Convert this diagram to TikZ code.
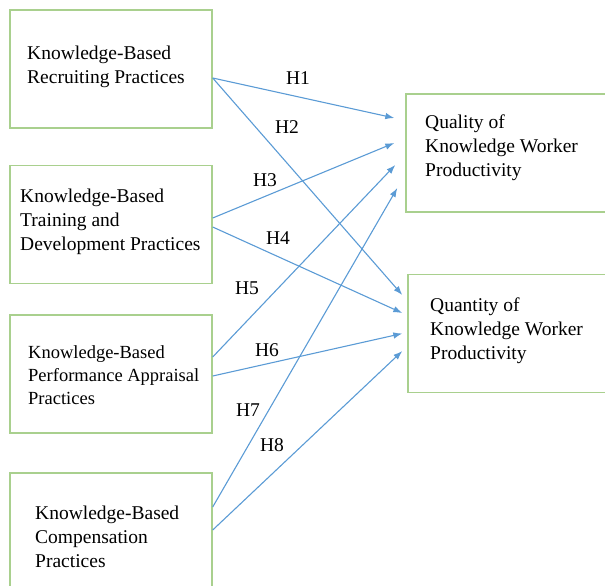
\documentclass[tikz,border=0pt]{standalone}
\usepackage{fontspec}
\setmainfont{Liberation Serif}
\usepackage{xcolor}
\usepackage{tikz}
\usetikzlibrary{arrows.meta}

\definecolor{boxgreen}{RGB}{169,208,142}
\definecolor{linkblue}{RGB}{91,155,213}

\tikzset{
  box/.style={draw=boxgreen,line width=1.4pt,minimum width=202pt,minimum height=118pt,inner sep=0pt},
  rbox/.style={box,minimum width=222pt},
  lbl/.style={anchor=west,align=left,inner sep=0pt,font=\fontsize{19.5}{24}\selectfont},
  hyp/.style={inner sep=0pt,font=\fontsize{19.5}{24}\selectfont},
  link/.style={->,draw=linkblue,line width=1.1pt}
}

\begin{document}
\begin{tikzpicture}[x=1pt,y=-1pt,>={Latex[length=9pt,width=6.5pt]}]

\useasboundingbox (0,0) rectangle (605,586);

% BOXES

% Independent variables.
\node[box] (rec) at (111,69) {};
\node[lbl] (rectext) at (27,66.5) {Knowledge-Based\\Recruiting Practices};

\node[box] (train) at (111,224.5) {};
\node[lbl] (traintext) at (20,221.5) {Knowledge-Based\\Training and\\Development Practices};

\node[box] (perf) at (111,374) {};
\node[lbl,font=\fontsize{18.5}{23}\selectfont] (perftext) at (28,375.5) {Knowledge-Based\\Performance Appraisal\\Practices};

\node[box] (comp) at (111,532) {};
\node[lbl] (comptext) at (35,537) {Knowledge-Based\\Compensation\\Practices};

% Dependent variables.
\node[rbox] (qual) at (517,153) {};
\node[lbl] (qualtext) at (425,147.5) {Quality of\\Knowledge Worker\\Productivity};

\node[rbox] (quan) at (519,333.5) {};
\node[lbl] (quantext) at (430,331) {Quantity of\\Knowledge Worker\\Productivity};

% HYPOTHESES

% Recruiting -> quality/quantity.
\draw[link] ([yshift=-9pt]rec.east) -- ([xshift=-11pt,yshift=35pt]qual.west);
\draw[link] ([yshift=-9pt]rec.east) -- ([xshift=-5pt,yshift=38.5pt]quan.west);

% Training -> quality/quantity.
\draw[link] ([yshift=6.5pt]train.east) -- ([xshift=-11pt,yshift=10pt]qual.west);
\draw[link] ([yshift=-2.5pt]train.east) -- ([xshift=-5pt,yshift=20.5pt]quan.west);

% Appraisal -> quality/quantity.
\draw[link] ([yshift=17pt]perf.east) -- ([xshift=-10pt,yshift=-12pt]qual.west);
\draw[link] ([yshift=-2pt]perf.east) -- ([xshift=-5pt]quan.west);

% Compensation -> quality/quantity.
\draw[link] ([yshift=25pt]comp.east) -- ([xshift=-8pt,yshift=-35pt]qual.west);
\draw[link] ([yshift=2pt]comp.east) -- ([xshift=-5pt,yshift=-17.5pt]quan.west);

% Labels.
\node[hyp] (h1) at (298,78) {H1};
\node[hyp] (h2) at (287,127) {H2};
\node[hyp] (h3) at (265,180) {H3};
\node[hyp] (h4) at (278,238) {H4};
\node[hyp] (h5) at (247,288) {H5};
\node[hyp] (h6) at (267,350) {H6};
\node[hyp] (h7) at (248,410) {H7};
\node[hyp] (h8) at (272,445) {H8};

\end{tikzpicture}
\end{document}
